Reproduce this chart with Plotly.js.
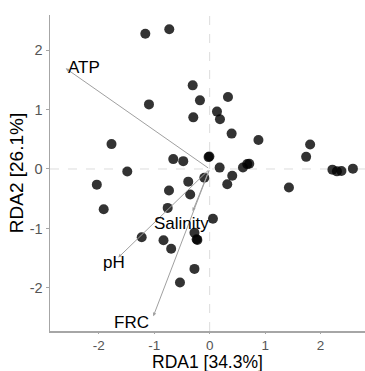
<!DOCTYPE html>
<html>
<head>
<meta charset="utf-8">
<script src="https://cdn.plot.ly/plotly-3.0.1.min.js"></script>
<style>html,body{margin:0;padding:0;background:#fff;}#chart{width:365px;height:371px;}</style>
</head>
<body>
<div id="chart"></div>
<script>
// Site scores (RDA1, RDA2)
const siteX = [-1.160,-0.728,-1.094,-0.306,-0.175,-0.295,0.330,0.132,0.186,0.396,0.879,-1.769,-0.656,-0.476,-0.020,-0.005,-1.485,0.180,0.600,0.677,0.714,0.407,-0.097,-0.386,-2.034,0.317,1.429,1.811,1.739,2.213,2.294,2.375,2.582,-0.733,-0.351,-1.910,-0.757,0.059,-1.225,-0.832,-0.694,-0.274,-0.235,-0.222,-0.274,-0.535];
const siteY = [2.274,2.348,1.086,1.406,1.154,0.868,1.209,0.965,0.836,0.595,0.486,0.418,0.166,0.132,0.200,0.210,-0.041,0.023,0.026,0.082,0.087,-0.115,-0.146,-0.213,-0.263,-0.258,-0.311,0.413,0.204,-0.011,-0.040,-0.033,0.006,-0.361,-0.428,-0.676,-0.654,-0.836,-1.147,-1.197,-1.340,-1.071,-1.180,-1.192,-1.680,-1.909];
// Environmental vectors
const envNames = ["ATP","pH","FRC","Salinity"];
const envX = [-2.595,-1.647,-1.016,-0.306];
const envY = [1.692,-1.489,-2.476,-0.709];
const labelX = [-2.26,-1.724,-1.405,-0.505];
const labelY = [1.70,-1.579,-2.583,-0.916];
const xTicks = [-2,-1,0,1,2];
const yTicks = [-2,-1,0,1,2];
const xTitle = 'RDA1 [34.3%]';
const yTitle = 'RDA2 [26.1%]';

const traces = [{
  type:'scatter', mode:'markers', x:siteX, y:siteY,
  marker:{size:10, color:'rgba(0,0,0,0.8)', line:{width:0}},
  hoverinfo:'skip', showlegend:false
}];

const annotations = [];
envNames.forEach((n,i)=>{
  annotations.push({x:envX[i], y:envY[i], ax:0, ay:0, xref:'x', yref:'y', axref:'x', ayref:'y',
    showarrow:true, arrowhead:2, arrowsize:0.7, arrowwidth:1, arrowcolor:'#a0a0a0', text:'', standoff:0, startstandoff:0});
  annotations.push({x:labelX[i], y:labelY[i], xref:'x', yref:'y', text:n, showarrow:false,
    font:{family:'Liberation Sans, Arial, sans-serif', size:17, color:'#000'}});
});
// x-axis title placed below the tick labels
annotations.push({x:0.5, y:0, xref:'paper', yref:'paper', xanchor:'center', yanchor:'top', yshift:-19.5, borderpad:0,
  text:xTitle, showarrow:false, font:{family:'Liberation Sans, Arial, sans-serif', size:17.5, color:'#000'}});

const layout = {
  width:365, height:371,
  margin:{l:50, r:0, t:15, b:40.3},
  paper_bgcolor:'#fff', plot_bgcolor:'#fff',
  showlegend:false,
  font:{family:'Liberation Sans, Arial, sans-serif'},
  xaxis:{range:[-2.878,2.80], tickvals:xTicks, ticktext:xTicks.map(String), showgrid:false, zeroline:false,
    showline:true, linecolor:'#a6a6a6', linewidth:1.5, ticks:'outside', ticklen:1, tickcolor:'#a6a6a6', tickwidth:1,
    tickfont:{size:13.5, color:'#555'}},
  yaxis:{range:[-2.724,2.589], tickvals:yTicks, ticktext:yTicks.map(String), showgrid:false, zeroline:false,
    showline:true, linecolor:'#a6a6a6', linewidth:1.5, ticks:'outside', ticklen:3, tickcolor:'#a6a6a6', tickwidth:1,
    tickfont:{size:14.5, color:'#555'}, title:{text:yTitle, font:{size:19, color:'#000'}, standoff:1}},
  shapes:[
    {type:'line', xref:'x', yref:'paper', x0:0, x1:0, y0:0, y1:1, line:{color:'#dcdcdc', width:1, dash:'dash'}, layer:'below'},
    {type:'line', xref:'paper', yref:'y', x0:0, x1:1, y0:0, y1:0, line:{color:'#dcdcdc', width:1, dash:'dash'}, layer:'below'}
  ],
  annotations:annotations
};
Plotly.newPlot('chart', traces, layout, {displayModeBar:false, staticPlot:true});
</script>
</body>
</html>
